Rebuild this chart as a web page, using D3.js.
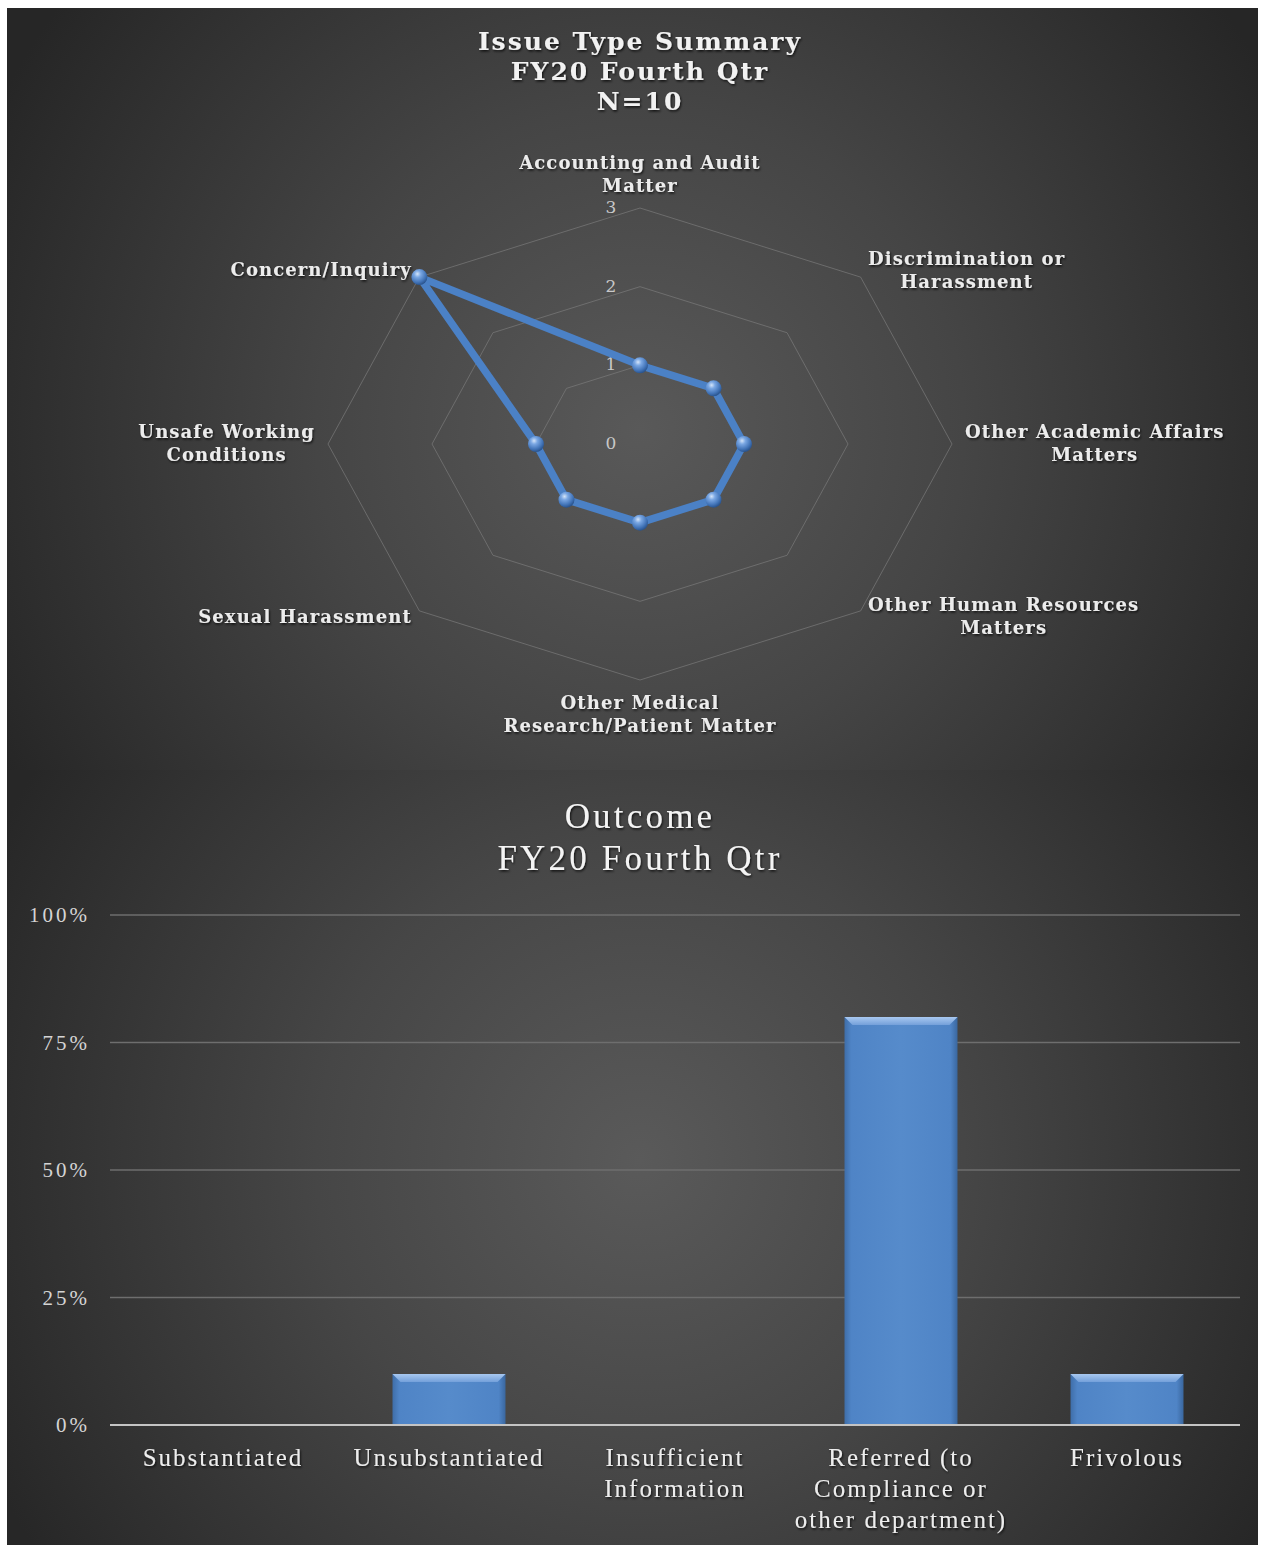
<!DOCTYPE html>
<html><head><meta charset="utf-8">
<script src="https://cdn.jsdelivr.net/npm/d3@7"></script>
<style>body{margin:0;background:#fff}svg{display:block}</style></head>
<body>
<svg id="c" width="1265" height="1549"></svg>
<script>
// ---------- data ----------
const issueTitle = ["Issue Type Summary", "FY20 Fourth Qtr", "N=10"];
const issueCategories = [
  ["Accounting and Audit", "Matter"],
  ["Discrimination or", "Harassment"],
  ["Other Academic Affairs", "Matters"],
  ["Other Human Resources", "Matters"],
  ["Other Medical", "Research/Patient Matter"],
  ["Sexual Harassment"],
  ["Unsafe Working", "Conditions"],
  ["Concern/Inquiry"]
];
const issueValues = [1, 1, 1, 1, 1, 1, 1, 3];
const radarTicks = [0, 1, 2, 3];

const outcomeTitle = ["Outcome", "FY20 Fourth Qtr"];
const outcomeCategories = [
  ["Substantiated"],
  ["Unsubstantiated"],
  ["Insufficient", "Information"],
  ["Referred (to", "Compliance or", "other department)"],
  ["Frivolous"]
];
const outcomeValues = [0, 0.10, 0, 0.80, 0.10];
const percentTicks = [0, 0.25, 0.5, 0.75, 1];

// ---------- setup ----------
const svg = d3.select("#c");
const defs = svg.append("defs");

function radial(id, cx, cy, r, stops) {
  const g = defs.append("radialGradient").attr("id", id)
    .attr("gradientUnits", "userSpaceOnUse")
    .attr("cx", cx).attr("cy", cy).attr("r", r);
  stops.forEach(s => g.append("stop").attr("offset", s[0]).attr("stop-color", s[1]));
}
radial("bgTop", 640, 430, 720, [[0, "#595959"], [0.45, "#454545"], [1, "#262626"]]);
radial("bgBot", 640, 1160, 720, [[0, "#5a5a5a"], [0.45, "#464646"], [1, "#272727"]]);

const sph = defs.append("radialGradient").attr("id", "sphere")
  .attr("cx", "38%").attr("cy", "30%").attr("r", "70%");
[[0, "#d4e4f8"], [0.3, "#7aa7e3"], [0.75, "#4274b8"], [1, "#2a548e"]]
  .forEach(s => sph.append("stop").attr("offset", s[0]).attr("stop-color", s[1]));

const barGrad = defs.append("linearGradient").attr("id", "barFill")
  .attr("x1", "0").attr("x2", "1").attr("y1", "0").attr("y2", "0");
[[0, "#3f6ea9"], [0.06, "#4f84c6"], [0.5, "#568bcb"], [0.94, "#4f84c6"], [1, "#3a679f"]]
  .forEach(s => barGrad.append("stop").attr("offset", s[0]).attr("stop-color", s[1]));

const bevGrad = defs.append("linearGradient").attr("id", "bevFill")
  .attr("x1", "0").attr("x2", "0").attr("y1", "0").attr("y2", "1");
[[0, "#a8c8f0"], [1, "#74a0da"]]
  .forEach(s => bevGrad.append("stop").attr("offset", s[0]).attr("stop-color", s[1]));

const shadow = defs.append("filter").attr("id", "tshadow")
  .attr("x", "-10%").attr("y", "-30%").attr("width", "120%").attr("height", "160%");
shadow.append("feDropShadow").attr("dx", 1).attr("dy", 1.5)
  .attr("stdDeviation", 1).attr("flood-color", "#000").attr("flood-opacity", 0.75);

// panels
svg.append("rect").attr("x", 7).attr("y", 8).attr("width", 1251).attr("height", 762)
  .attr("fill", "url(#bgTop)");
svg.append("rect").attr("x", 7).attr("y", 770).attr("width", 1251).attr("height", 775)
  .attr("fill", "url(#bgBot)");

// ---------- radar ----------
const radarFont = "'DejaVu Serif', serif";
const topG = svg.append("g");

topG.append("g").attr("filter", "url(#tshadow)")
  .selectAll("text").data(issueTitle).join("text")
  .attr("x", 640).attr("y", (d, i) => 50 + i * 30)
  .attr("text-anchor", "middle")
  .attr("font-family", radarFont).attr("font-weight", "bold")
  .attr("font-size", 25).attr("letter-spacing", 2).attr("fill", "#f2f2f2")
  .text(d => d);

const cx = 640, cy = 444;
const maxV = d3.max(radarTicks);
const rX = d3.scaleLinear().domain([0, maxV]).range([0, 312]);
const rY = d3.scaleLinear().domain([0, maxV]).range([0, 236]);
const ang = d3.scaleLinear().domain([0, issueCategories.length]).range([0, 2 * Math.PI]);
const pt = (i, v) => [cx + rX(v) * Math.sin(ang(i)), cy - rY(v) * Math.cos(ang(i))];
const closed = d3.line().curve(d3.curveLinearClosed);

// rings
topG.append("g").selectAll("path").data(radarTicks.filter(t => t > 0)).join("path")
  .attr("d", t => closed(issueCategories.map((c, i) => pt(i, t))))
  .attr("fill", "none").attr("stroke", "#7a7a7a").attr("stroke-opacity", 0.7)
  .attr("stroke-width", 1);

// tick labels
topG.append("g").selectAll("text").data(radarTicks).join("text")
  .attr("x", cx - 29).attr("y", t => cy - rY(t)).attr("dy", "0.3em")
  .attr("text-anchor", "middle")
  .attr("font-family", radarFont).attr("font-size", 17).attr("fill", "#c8c8c8")
  .text(t => t);

// category labels
const lblG = topG.append("g").attr("filter", "url(#tshadow)");
const lineH = 23;
issueCategories.forEach((lines, i) => {
  const a = ang(i);
  const [vx, vy] = pt(i, maxV);
  const g = lblG.append("g");
  const texts = g.selectAll("text").data(lines).join("text")
    .attr("font-family", radarFont).attr("font-size", 18).attr("font-weight", "bold")
    .attr("letter-spacing", 1.1)
    .attr("fill", "#ececec").attr("text-anchor", "middle")
    .text(d => d);
  const bw = d3.max(texts.nodes(), n => n.getComputedTextLength());
  const bh = lines.length * lineH;
  const s = Math.sin(a), c = Math.cos(a);
  let bx, byc;
  if (Math.abs(s) < 1e-6) {
    bx = vx;
    byc = c > 0 ? vy - 10 - bh / 2 : vy + 12 + bh / 2;
  } else {
    const off = 12 * Math.abs(s) + (Math.abs(c) > 0.5 ? -1 : 1);
    bx = s > 0 ? vx + off + bw / 2 : vx - off - bw / 2;
    byc = vy - 9 * c;
  }
  texts.attr("x", bx)
    .attr("y", (d, k) => byc - bh / 2 + k * lineH + 17);
});

// series
const seriesPts = issueValues.map((v, i) => pt(i, v));
topG.append("path").attr("d", closed(seriesPts))
  .attr("fill", "none").attr("stroke", "#4b81c6").attr("stroke-width", 7.5)
  .attr("stroke-linejoin", "round");
topG.append("g").selectAll("circle").data(seriesPts).join("circle")
  .attr("cx", d => d[0]).attr("cy", d => d[1]).attr("r", 8)
  .attr("fill", "url(#sphere)");

// ---------- bar chart ----------
const barFont = "'Liberation Serif', serif";
const botG = svg.append("g");

botG.append("g").attr("filter", "url(#tshadow)")
  .selectAll("text").data(outcomeTitle).join("text")
  .attr("x", 640).attr("y", (d, i) => 828 + i * 42)
  .attr("text-anchor", "middle")
  .attr("font-family", barFont).attr("font-size", 35)
  .attr("letter-spacing", 3.2).attr("fill", "#f4f4f4")
  .text(d => d);

const x = d3.scaleBand().domain(outcomeCategories.map((d, i) => i))
  .range([110, 1240]).paddingInner(0.5).paddingOuter(0.25);
const y = d3.scaleLinear().domain([0, 1]).range([1425, 915]);

// gridlines
botG.append("g").selectAll("line").data(percentTicks.filter(t => t > 0)).join("line")
  .attr("x1", 110).attr("x2", 1240)
  .attr("y1", t => y(t)).attr("y2", t => y(t))
  .attr("stroke", "#6e6e6e").attr("stroke-width", 1.5);

// y axis via d3.axisLeft
const yAxis = d3.axisLeft(y).tickValues(percentTicks).tickFormat(d3.format(".0%")).tickSize(0).tickPadding(20);
const yg = botG.append("g").attr("transform", "translate(110,0)").call(yAxis);
yg.select(".domain").remove();
yg.selectAll("text").attr("font-family", barFont).attr("font-size", 21)
  .attr("letter-spacing", 3).attr("fill", "#d4d4d4");

// bars
const barsG = botG.append("g");
outcomeValues.forEach((v, i) => {
  if (v <= 0) return;
  const bx = x(i), bw = x.bandwidth(), by = y(v), bh = y(0) - y(v);
  barsG.append("rect").attr("x", bx).attr("y", by).attr("width", bw).attr("height", bh)
    .attr("fill", "url(#barFill)");
  const bev = 8;
  barsG.append("path")
    .attr("d", `M${bx},${by}L${bx + bw},${by}L${bx + bw - bev},${by + bev}L${bx + bev},${by + bev}Z`)
    .attr("fill", "url(#bevFill)");
});

// axis line
botG.append("line").attr("x1", 110).attr("x2", 1240).attr("y1", y(0)).attr("y2", y(0))
  .attr("stroke", "#c4c4c4").attr("stroke-width", 2);

// x labels
const xl = botG.append("g").attr("filter", "url(#tshadow)");
outcomeCategories.forEach((lines, i) => {
  xl.append("g").selectAll("text").data(lines).join("text")
    .attr("x", x(i) + x.bandwidth() / 2).attr("y", (d, k) => 1466 + k * 31)
    .attr("text-anchor", "middle")
    .attr("font-family", barFont).attr("font-size", 25)
    .attr("letter-spacing", 2).attr("fill", "#ededed")
    .text(d => d);
});
</script>
</body></html>
